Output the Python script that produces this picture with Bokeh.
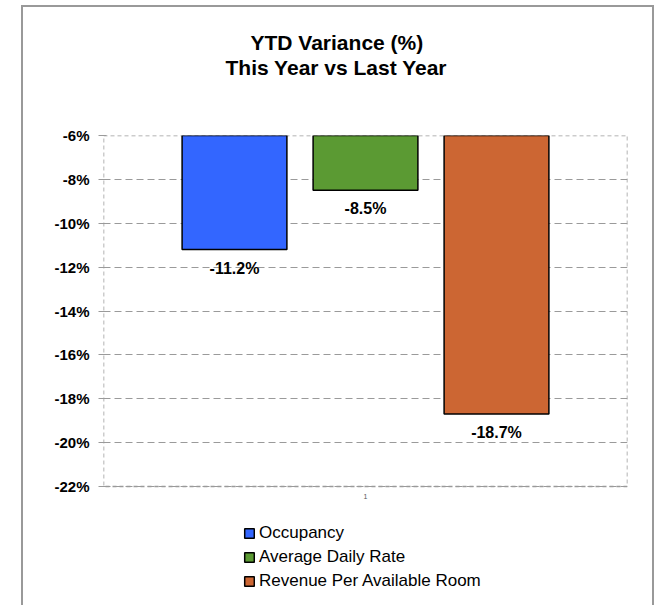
from bokeh.plotting import figure
from bokeh.models import (Range1d, FixedTicker, PrintfTickFormatter, ColumnDataSource,
                          LabelSet, Legend, LegendItem, Title)
from bokeh.core.properties import value
from bokeh.transform import dodge
from bokeh.embed import file_html
from bokeh.resources import INLINE

# ---- data ----
series = ["Occupancy", "Average Daily Rate", "Revenue Per Available Room"]
values = [-11.2, -8.5, -18.7]
colors = ["#3366FF", "#5B9A33", "#CC6633"]
category = ["1"]
y_ticks = [-22, -20, -18, -16, -14, -12, -10, -8, -6]
title_lines = ["YTD Variance (%)", "This Year vs Last Year"]
baseline = -6

FONT = "Liberation Sans"
GRID = "#9a9a9a"

# layout: the plotted value area is 351 px tall; the frame continues below it
# so that the legend (drawn inside the frame) sits under the value area.
y_max, y_min = max(y_ticks), min(y_ticks)
area_h = 351
frame_h = 470
y_start = y_max - frame_h * (y_max - y_min) / area_h

p = figure(frame_width=524, frame_height=frame_h, output_backend="svg", toolbar_location=None,
           x_range=Range1d(0.5, 1.5), y_range=Range1d(y_start, y_max),
           x_axis_location=None,
           min_border_left=80, min_border_right=25, min_border_top=128, min_border_bottom=0)
p.styles = {"border-top": "2px solid #999999", "border-left": "2px solid #999999",
            "border-right": "2px solid #999999", "position": "relative",
            "left": "21px", "top": "5px"}
p.background_fill_color = "white"
p.border_fill_color = "white"
p.outline_line_color = None
p.title.standoff = 0

# title: spacer nearest the frame, then line 2, then line 1
p.add_layout(Title(text=" ", text_font_size="1px", standoff=54), "above")
for line, off in zip(reversed(title_lines), [122, 147]):
    p.add_layout(Title(text=line, align="left", offset=off, standoff=0,
                       text_font=FONT, text_font_size="21px", text_font_style="bold",
                       text_color="black"), "above")

# grid
p.xgrid.visible = False
p.ygrid.ticker = FixedTicker(ticks=y_ticks)
p.ygrid.grid_line_color = GRID
p.ygrid.grid_line_dash = "7 4"
p.ygrid.grid_line_width = 1.2

# plot-area outline (dashed box around the value area)
p.quad(left=[p.x_range.start], right=[p.x_range.end], top=[y_max], bottom=[y_min],
       fill_color=None, line_color=GRID, line_dash="4 3", line_width=1.5)

# bars
bar_w = 0.2
step = 0.25
items = []
for i, (name, v, c) in enumerate(zip(series, values, colors)):
    off = (i - (len(series) - 1) / 2) * step
    src = ColumnDataSource(dict(x=[1], top=[baseline], bottom=[v], label=[f"{v:.1f}%"]))
    r = p.vbar(x=dodge("x", off), width=bar_w, top="top", bottom="bottom", source=src,
               fill_color=c, line_color="black", line_width=1.5)
    items.append(LegendItem(label=name, renderers=[r]))
    lbl = LabelSet(x=dodge("x", off), y="bottom", text="label", source=src,
                   text_align="center", text_baseline="top", y_offset=-10,
                   text_font=value(FONT), text_font_size=value("16px"),
                   text_font_style="bold", text_color="black")
    p.add_layout(lbl)

# category label under the value area
p.text(x=[1], y=[y_min], text=category, text_align="center", text_baseline="middle",
       y_offset=10, text_font=value(FONT), text_font_size=value("7px"),
       text_color="#555555")

# y axis
p.yaxis.ticker = FixedTicker(ticks=y_ticks)
p.yaxis.formatter = PrintfTickFormatter(format="%d%%")
p.yaxis.major_label_text_font = FONT
p.yaxis.major_label_text_font_size = "15px"
p.yaxis.major_label_text_font_style = "bold"
p.yaxis.major_label_text_color = "black"
p.yaxis.axis_line_color = None
p.yaxis.major_tick_line_color = GRID
p.yaxis.major_tick_out = 5
p.yaxis.major_tick_in = 3
p.yaxis.minor_tick_line_color = None
p.yaxis.major_label_standoff = 9

# legend (inside the frame, under the value area)
legend = Legend(items=items, location=(140, 14), orientation="vertical")
legend.glyph_width = 12
legend.glyph_height = 12
legend.label_height = 20
legend.spacing = 4
legend.label_standoff = 4
legend.label_text_font = FONT
legend.label_text_font_size = "17px"
legend.label_text_color = "black"
legend.border_line_color = None
legend.background_fill_alpha = 0
legend.margin = 0
legend.padding = 0
p.add_layout(legend, "center")

open("out.html", "w").write(file_html(p, INLINE))
